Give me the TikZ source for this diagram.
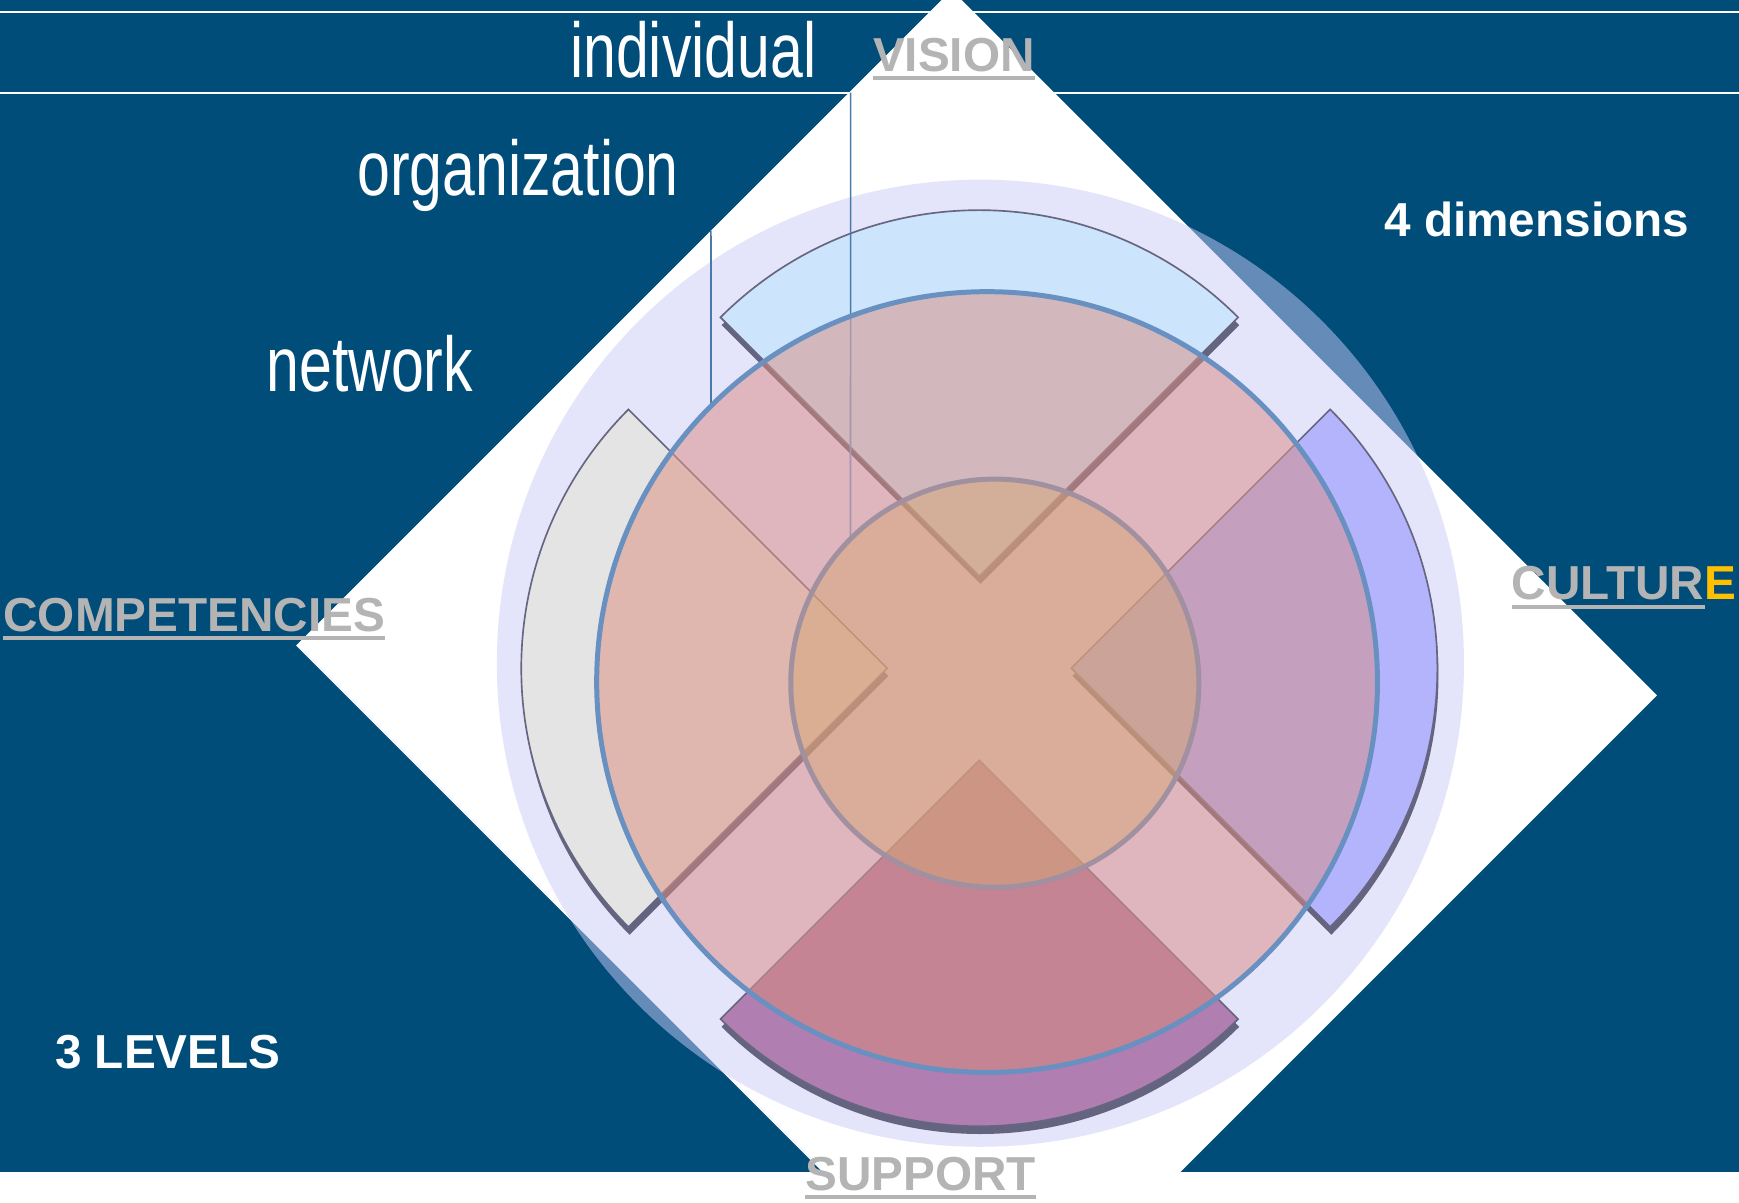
\documentclass[tikz,border=0pt]{standalone}
\usepackage{fontspec}
\setmainfont{Liberation Sans}
\newfontfamily\narrowfont[FakeStretch=0.76]{Liberation Sans}
\usepackage{tikz}

\definecolor{bgblue}{RGB}{0,77,122}
\definecolor{halo}{RGB}{202,202,249}
\definecolor{visionblue}{RGB}{204,228,252}
\definecolor{compgray}{RGB}{228,228,228}
\definecolor{cultureviolet}{RGB}{180,180,252}
\definecolor{supportmauve}{RGB}{176,126,176}
\definecolor{wedgeline}{RGB}{102,102,128}
\definecolor{wshade}{RGB}{100,100,128}
\definecolor{orgpink}{RGB}{223,181,190}
\definecolor{visiontint}{RGB}{210,183,189}
\definecolor{comptint}{RGB}{223,183,175}
\definecolor{culturetint}{RGB}{196,160,190}
\definecolor{supporttint}{RGB}{196,132,148}
\definecolor{shadetint}{RGB}{160,120,126}
\definecolor{linetint}{RGB}{170,128,130}
\definecolor{leadertint}{RGB}{165,150,172}
\definecolor{ringblue}{RGB}{104,144,192}
\definecolor{indorange}{RGB}{213,167,118}
\definecolor{ringgray}{RGB}{160,144,160}
\definecolor{leaderblue}{RGB}{74,122,170}
\definecolor{labelgray}{RGB}{180,180,180}
\definecolor{gold}{RGB}{255,192,0}

\begin{document}
\begin{tikzpicture}[x=1pt, y=1pt,
    wedge/.style={draw=wedgeline, line width=1.5},
    wshadow/.style={fill=wshade, shift={(1,-7)}},
    leader/.style={draw=leaderblue, line width=1.5},
    layertext/.style={anchor=base west, inner sep=0, text=white, font=\narrowfont\fontsize{70}{70}\selectfont},
    dimtext/.style={anchor=base west, inner sep=0, text=labelgray, font=\fontsize{43}{43}\selectfont\bfseries},
    headtext/.style={anchor=base west, inner sep=0, text=white, font=\fontsize{43}{43}\selectfont\bfseries},
    uline/.style={draw=labelgray, line width=3.6}]
    \useasboundingbox (0, 0) rectangle (1568, 1084);
    \fill[white] (0, 0) rectangle (1568, 1084);
    \fill[bgblue] (0, 27.2) rectangle (1568, 1084);
    \draw[white, line width=2] (0, 1073.2) -- (1568, 1073.2);
    \draw[white, line width=2] (0, 1000.4) -- (1568, 1000.4);
    \begin{scope}
        \clip (0, 0) rectangle (1568, 1084);
        \fill[white] (858, 1093) -- (1494, 457) -- (903, -134) -- (267, 502) -- cycle;
    \end{scope}
    \fill[halo, fill opacity=0.5] (884, 486) circle (436);
    % four dimensions
    \fill[wshadow] (883, 564.5) -- ++(45:330) arc[start angle=45, end angle=135, radius=330] -- cycle;
    \fill[wshadow] (800, 481.5) -- ++(135:330) arc[start angle=135, end angle=225, radius=330] -- cycle;
    \fill[wshadow] (966, 481.5) -- ++(-45:330) arc[start angle=-45, end angle=45, radius=330] -- cycle;
    \fill[wshadow] (883, 398.5) -- ++(225:330) arc[start angle=225, end angle=315, radius=330] -- cycle;
    \draw[wedge, fill=visionblue] (883, 564.5) -- ++(45:330) arc[start angle=45, end angle=135, radius=330] -- cycle;
    \draw[wedge, fill=compgray] (800, 481.5) -- ++(135:330) arc[start angle=135, end angle=225, radius=330] -- cycle;
    \draw[wedge, fill=cultureviolet] (966, 481.5) -- ++(-45:330) arc[start angle=-45, end angle=45, radius=330] -- cycle;
    \draw[wedge, fill=supportmauve] (883, 398.5) -- ++(225:330) arc[start angle=225, end angle=315, radius=330] -- cycle;
    % three levels
    \coordinate (orgtop) at (641, 876);
    \coordinate (indtop) at (767, 1000.4);
    \node[circle, minimum size=704, inner sep=0, outer sep=0] (orgcircle) at (890, 469) {};
    \node[circle, minimum size=368, inner sep=0, outer sep=0] (indcircle) at (897, 468) {};
    \draw[leader] (orgtop) -- (orgcircle.135);
    \draw[leader] (indtop) -- (indcircle.135);
    % organization circle seen through
    \begin{scope}
        \clip (orgcircle.center) circle (352);
        \fill[orgpink] (orgcircle.center) circle (352);
        \fill[wshadow, fill=shadetint] (883, 564.5) -- ++(45:330) arc[start angle=45, end angle=135, radius=330] -- cycle;
        \fill[wshadow, fill=shadetint] (800, 481.5) -- ++(135:330) arc[start angle=135, end angle=225, radius=330] -- cycle;
        \fill[wshadow, fill=shadetint] (966, 481.5) -- ++(-45:330) arc[start angle=-45, end angle=45, radius=330] -- cycle;
        \fill[wshadow, fill=shadetint] (883, 398.5) -- ++(225:330) arc[start angle=225, end angle=315, radius=330] -- cycle;
        \draw[wedge, draw=linetint, fill=visiontint] (883, 564.5) -- ++(45:330) arc[start angle=45, end angle=135, radius=330] -- cycle;
        \draw[wedge, draw=linetint, fill=comptint] (800, 481.5) -- ++(135:330) arc[start angle=135, end angle=225, radius=330] -- cycle;
        \draw[wedge, draw=linetint, fill=culturetint] (966, 481.5) -- ++(-45:330) arc[start angle=-45, end angle=45, radius=330] -- cycle;
        \draw[wedge, draw=linetint, fill=supporttint] (883, 398.5) -- ++(225:330) arc[start angle=225, end angle=315, radius=330] -- cycle;
        \draw[leader, draw=leadertint] (indtop) -- (indcircle.135);
    \end{scope}
    \draw[draw=ringblue, line width=4.5] (orgcircle.center) circle (352);
    \draw[draw=ringgray, line width=4.5, fill=indorange, fill opacity=0.5] (indcircle.center) circle (184);
    \node[layertext] (individual) at (514, 1014) {individual};
    \node[layertext] (organization) at (322, 908) {organization};
    \node[layertext] (network) at (240, 731) {network};
    \node[dimtext] (vision) at (787, 1019.4) {VISION};
    \draw[uline] ([yshift=-6]vision.base west) -- ([yshift=-6]vision.base east);
    \node[headtext] (dims) at (1248, 870.4) {4 dimensions};
    \node[dimtext] (competencies) at (3, 515) {COMPETENCIES};
    \draw[uline] ([yshift=-6]competencies.base west) -- ([yshift=-6]competencies.base east);
    \node[dimtext] (culture) at (1363, 543) {CULTUR};
    \node[dimtext, text=gold] (cultureE) at (culture.base east) {E};
    \draw[uline] ([yshift=-6]culture.base west) -- ([yshift=-6]culture.base east);
    \node[dimtext] (support) at (726, 11) {SUPPORT};
    \draw[uline] ([yshift=-6]support.base west) -- ([yshift=-6]support.base east);
    \node[headtext] (levels) at (49.6, 121) {3 LEVELS};
\end{tikzpicture}
\end{document}
